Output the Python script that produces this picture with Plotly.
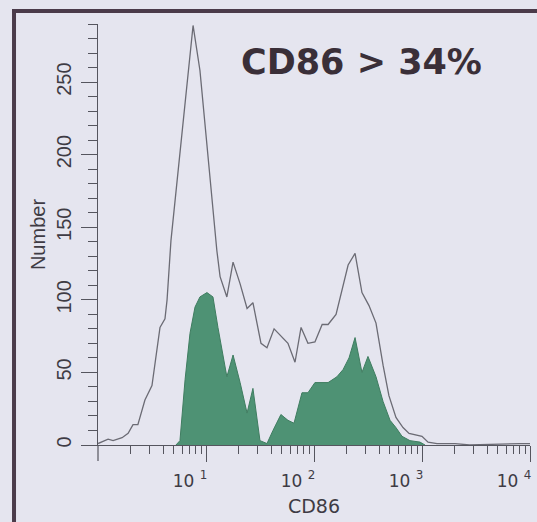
import plotly.graph_objects as go

# CD86 fluorescence intensity (log scale) and event counts
all_cd86 = [1.00, 1.24, 1.38, 1.67, 1.90, 2.11, 2.34, 2.72, 3.16, 3.52, 3.75, 4.17,
            4.36, 4.74, 7.59, 8.79, 12.6, 13.5, 15.6, 17.8, 20.7, 24.0, 27.2, 32.3,
            36.7, 42.7, 50.6, 57.4, 66.7, 75.9, 87.9, 102, 119, 135, 160, 207,
            240, 278, 323, 375, 436, 494, 574, 667, 759, 1000, 1138, 1377, 2023,
            2754, 8072, 10000]
all_counts = [1, 4, 3, 5, 8, 14, 14, 31, 41, 65, 81, 87,
              100, 141, 289, 258, 134, 116, 102, 126, 111, 94, 98, 70,
              67, 80, 74, 70, 57, 81, 70, 71, 83, 83, 90, 124,
              132, 105, 96, 84, 55, 34, 19, 12, 8, 6, 2, 1, 1,
              0, 1, 1]

pos_cd86 = [5.27, 5.74, 6.40, 7.11, 7.91, 8.79, 10.2, 11.6, 12.9, 13.8, 15.6, 17.8,
            20.7, 24.0, 27.2, 31.6, 36.7, 41.7, 49.4, 57.4, 65.3, 77.4, 87.9, 102,
            119, 135, 163, 186, 211, 240, 278, 316, 375, 436, 506, 574, 653, 774,
            957, 1067]
pos_counts = [0, 3, 45, 77, 95, 102, 105, 102, 81, 69, 47, 62,
              43, 22, 39, 3, 1, 10, 21, 17, 15, 36, 36, 43,
              43, 43, 47, 52, 60, 74, 50, 61, 47, 30, 17, 12, 6, 3,
              2, 0]

x_tick_vals = [10, 100, 1000, 10000]
x_tick_text = ["10\u00a0<sup>1</sup>", "10\u00a0<sup>2</sup>",
               "10\u00a0<sup>3</sup>", "10\u00a0<sup>4</sup>"]
x_minor_vals = [m * 10 ** d for d in range(4) for m in range(2, 10)]
y_tick_vals = [0, 50, 100, 150, 200, 250]

AXIS = "#55555e"
TEXT = "#3e3b44"
BG = "#e5e5ef"
FRAME = "#4b3b4a"

fig = go.Figure()

fig.add_trace(go.Scatter(
    x=pos_cd86, y=pos_counts, mode="lines",
    fill="tozeroy", fillcolor="#4e9274",
    line=dict(color="#3f7d60", width=1),
    hoverinfo="x+y", showlegend=False,
))
fig.add_trace(go.Scatter(
    x=all_cd86, y=all_counts, mode="lines",
    line=dict(color="#6b6b74", width=1.3),
    hoverinfo="x+y", showlegend=False,
))

fig.update_layout(
    width=537, height=522,
    margin=dict(l=98, r=7, t=24, b=77),
    paper_bgcolor=BG, plot_bgcolor=BG,
    showlegend=False,
    xaxis=dict(
        type="log", range=[0, 4],
        showgrid=False, zeroline=False,
        showline=True, linecolor=AXIS, linewidth=1.2,
        ticks="outside", ticklen=16, tickwidth=1.2, tickcolor=AXIS,
        tickmode="array", tickvals=x_tick_vals, ticktext=x_tick_text,
        minor=dict(tickmode="array", tickvals=x_minor_vals, ticks="outside",
                   ticklen=8, tickwidth=1.2, tickcolor=AXIS),
        tickfont=dict(family="DejaVu Sans", size=17, color=TEXT),
        ticklabelshift=-16, ticklabelstandoff=4,
        title=dict(text="CD86", standoff=10,
                   font=dict(family="DejaVu Sans", size=19, color=TEXT)),
    ),
    yaxis=dict(
        range=[0, 290],
        showgrid=False, zeroline=False,
        showline=True, linecolor=AXIS, linewidth=1.2,
        ticks="outside", ticklen=16, tickwidth=1.2, tickcolor=AXIS,
        tickmode="array", tickvals=y_tick_vals, tickangle=-90,
        minor=dict(dtick=10, tick0=0, ticks="outside", ticklen=9,
                   tickwidth=1.2, tickcolor=AXIS),
        tickfont=dict(family="Liberation Sans", size=20, color=TEXT),
        ticklabelstandoff=2,
        title=dict(text="Number", standoff=1,
                   font=dict(family="Liberation Sans", size=20, color=TEXT)),
    ),
    annotations=[dict(
        text="<b>CD86 &gt; 34%</b>", xref="paper", yref="paper",
        x=0.609, y=0.91, xanchor="center", yanchor="middle", showarrow=False,
        font=dict(family="DejaVu Sans", size=35, color="#3a2f38"),
    )],
    shapes=[
        # long tick at the x-axis origin
        dict(type="line", xref="paper", yref="paper",
             x0=0, x1=0, ysizemode="pixel", yanchor=0, y0=0, y1=-16,
             line=dict(color=AXIS, width=1.2)),
        # page frame
        dict(type="line", xref="paper", yref="paper", x0=-0.1944, x1=-0.1944,
             y0=1.0355, y1=-0.35, line=dict(color=FRAME, width=4)),
        dict(type="line", xref="paper", yref="paper", x0=-0.199, x1=1.1,
             y0=1.0309, y1=1.0309, line=dict(color=FRAME, width=4)),
    ],
)

fig.write_html("out.html")
